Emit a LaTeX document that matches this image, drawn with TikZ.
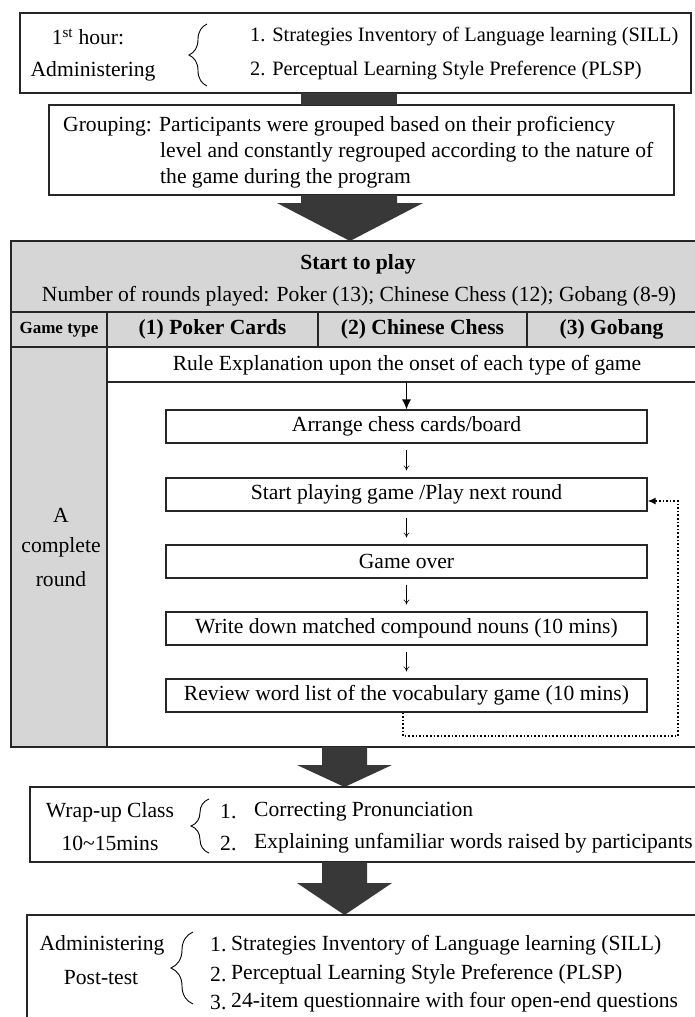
\documentclass[tikz,border=0pt]{standalone}
\usepackage{fontspec}
\setmainfont{Liberation Serif}
\usetikzlibrary{arrows.meta,decorations.pathreplacing}
\definecolor{darkarrow}{HTML}{383838}
\definecolor{cellgray}{HTML}{D6D6D6}
\newcommand\mainsz{\fontsize{21.6}{25}\selectfont}
\newcommand\topsz{\fontsize{20.4}{24}\selectfont}
\begin{document}
\begin{tikzpicture}[x=1pt,y=-1pt,
  box/.style={draw=black!85, line width=1.1pt, fill=white, inner sep=0pt},
  cell/.style={draw=black!85, line width=1.1pt, fill=cellgray, inner sep=0pt},
  tx/.style={font=\mainsz, inner sep=0pt},
  txl/.style={font=\mainsz, inner sep=0pt, anchor=west},
  hd/.style={font=\mainsz\bfseries, inner sep=0pt},
  bracestyle/.style={line width=0.9pt, decorate},
  thinarr/.style={-{To[length=5pt,width=6pt]}, line width=0.6pt},
  looparr/.style={dotted, line width=1.6pt, -{Latex[length=8pt,width=7pt]}},
  bigarrow/.style={fill=darkarrow}]
\useasboundingbox (0,0) rectangle (695,1017);
\clip (0,0) rectangle (695,1017);
% ---------- top box
\node[box, minimum width=671pt, minimum height=80pt] (top) at (355.5,53) {};
\node[tx] (h1) at (88,37) {1\textsuperscript{st} hour:};
\node[tx] (h2) at (93,71) {Administering};
\draw[bracestyle, decoration={brace, amplitude=18pt}] (207,86) -- (207,24);
\node[txl, font=\topsz] (i1) at (250,37) {1. Strategies Inventory of Language learning (SILL)};
\node[txl, font=\topsz] (i2) at (250,71) {2. Perceptual Learning Style Preference (PLSP)};
% ---------- grouping
\node[box, minimum width=625pt, minimum height=90pt] (group) at (361.5,150) {};
\fill[darkarrow] (301,93) rectangle (397,105);
\node[txl] (g1) at (63,126) {Grouping: Participants were grouped based on their proficiency};
\node[txl] (g2) at (160,152) {level and constantly regrouped according to the nature of};
\node[txl] (g3) at (160,178) {the game during the program};
\fill[bigarrow] (301,195) -- (397,195) -- (397,203) -- (423,203) -- (350,241) -- (277,203) -- (301,203) -- cycle;
% ---------- table
\node[cell, line width=2.6pt, minimum width=685pt, minimum height=71pt] (start) at (353.5,276.5) {};
\node[hd] (stt) at (358,264) {Start to play};
\node[tx] (nr) at (359,296) {Number of rounds played: Poker (13); Chinese Chess (12); Gobang (8-9)};
\node[cell, minimum width=96pt, minimum height=35pt, font=\fontsize{17}{20}\selectfont\bfseries] (gt) at (59,329.5) {Game type};
\node[cell, minimum width=211pt, minimum height=35pt, font=\mainsz\bfseries] (c1) at (212.5,329.5) {(1) Poker Cards};
\node[cell, minimum width=209pt, minimum height=35pt, font=\mainsz\bfseries] (c2) at (422.5,329.5) {(2) Chinese Chess};
\node[cell, minimum width=169pt, minimum height=35pt, font=\mainsz\bfseries] (c3) at (611.5,329.5) {(3) Gobang};
\node[cell, line width=1.5pt, minimum width=96pt, minimum height=400pt] (lc) at (59,547) {};
\node[tx] (la) at (61,515) {A};
\node[tx] (lb) at (61,547) {complete};
\node[tx] (lr) at (61,579) {round};
\node[box, minimum width=589pt, minimum height=35pt] (rule) at (401.5,364.5) {};
\node[tx] (rt) at (407,365) {Rule Explanation upon the onset of each type of game};
\node[box, minimum width=589pt, minimum height=365pt] (inner) at (401.5,564.5) {};
% flow boxes
\node[box, minimum width=481pt, minimum height=33pt, font=\mainsz] (arr) at (406.5,426.5) {Arrange chess cards/board};
\node[box, minimum width=481pt, minimum height=33pt, font=\mainsz] (sp) at (406.5,494.5) {Start playing game /Play next round};
\node[box, minimum width=481pt, minimum height=33pt, font=\mainsz] (go) at (406.5,561.5) {Game over};
\node[box, minimum width=481pt, minimum height=33pt, font=\mainsz] (wd) at (406.5,628.5) {Write down matched compound nouns (10 mins)};
\node[box, minimum width=481pt, minimum height=33pt, font=\mainsz] (rev) at (406.5,695.5) {Review word list of the vocabulary game (10 mins)};
\draw[line width=1.4pt, -{Latex[length=10pt,width=9pt]}] (rule.south -| arr.north) -- (arr.north);
\draw[thinarr] ([yshift=-6pt]arr.south) -- ([yshift=7pt]sp.north);
\draw[thinarr] ([yshift=-6pt]sp.south) -- ([yshift=7pt]go.north);
\draw[thinarr] ([yshift=-6pt]go.south) -- ([yshift=7pt]wd.north);
\draw[thinarr] ([yshift=-6pt]wd.south) -- ([yshift=7pt]rev.north);
\coordinate (lpb) at (403,736);
\coordinate (lpr) at (678,736);
\coordinate (lpt) at (678,501);
\draw[looparr] ([xshift=-3.5pt]rev.south) -- (lpb) -- (lpr) -- (lpt) -- (lpt -| sp.east);
% ---------- wrap-up
\fill[bigarrow] (322,747) -- (367,747) -- (367,765) -- (392,765) -- (344.5,787) -- (297,765) -- (322,765) -- cycle;
\node[box, minimum width=670pt, minimum height=75pt] (wrap) at (365,824.5) {};
\node[tx] (w1) at (110,812) {Wrap-up Class};
\node[tx] (w2) at (110,843) {10\textasciitilde15mins};
\draw[bracestyle, decoration={brace, amplitude=18pt}] (209,853) -- (209,799);
\node[txl] (wn1) at (220,812) {1.};
\node[txl] (wi1) at (254,812) {Correcting Pronunciation};
\node[txl] (wn2) at (220,843) {2.};
\node[txl] (wi2) at (254,843) {Explaining unfamiliar words raised by participants};
% ---------- post-test
\fill[bigarrow] (322,862) -- (367,862) -- (367,883) -- (392,883) -- (344.5,915) -- (297,883) -- (322,883) -- cycle;
\node[box, minimum width=683pt, minimum height=122pt] (bot) at (368.5,976) {};
\node[tx] (b1) at (102,945) {Administering};
\node[tx] (b2) at (101,978) {Post-test};
\draw[bracestyle, decoration={brace, amplitude=22pt}] (193,1004) -- (193,932);
\node[txl] (bn1) at (210,945) {1.};
\node[txl] (bi1) at (231,945) {Strategies Inventory of Language learning (SILL)};
\node[txl] (bn2) at (210,974) {2.};
\node[txl] (bi2) at (231,974) {Perceptual Learning Style Preference (PLSP)};
\node[txl] (bn3) at (210,1002) {3.};
\node[txl] (bi3) at (231,1002) {24-item questionnaire with four open-end questions};
\end{tikzpicture}
\end{document}
